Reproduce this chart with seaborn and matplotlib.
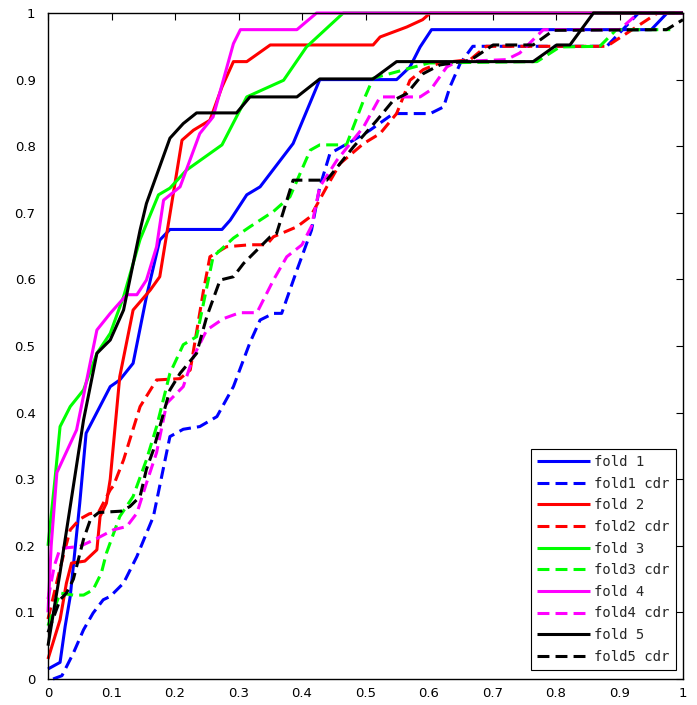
import matplotlib
matplotlib.use("Agg")
import matplotlib.pyplot as plt
import seaborn as sns
import numpy as np

# ---------------- data ----------------
fold1_x = [0, 0.019, 0.027, 0.035, 0.05, 0.06, 0.098, 0.113, 0.134, 0.155, 0.176, 0.192, 0.274, 0.287, 0.313, 0.334, 0.386, 0.428, 0.549, 0.570, 0.586, 0.604, 0.95, 0.975, 1.0]
fold1_y = [0.015, 0.025, 0.079, 0.124, 0.264, 0.369, 0.439, 0.449, 0.474, 0.574, 0.659, 0.675, 0.675, 0.689, 0.727, 0.739, 0.804, 0.900, 0.900, 0.919, 0.949, 0.975, 0.975, 1.0, 1.0]

fold1cdr_x = [0.008, 0.022, 0.04, 0.056, 0.071, 0.087, 0.098, 0.119, 0.140, 0.166, 0.192, 0.213, 0.239, 0.266, 0.292, 0.318, 0.334, 0.355, 0.368, 0.392, 0.415, 0.428, 0.444, 0.481, 0.507, 0.544, 0.602, 0.623, 0.633, 0.649, 0.669, 0.70, 0.88, 0.93, 1.0]
fold1cdr_y = [0.0, 0.005, 0.039, 0.074, 0.099, 0.119, 0.124, 0.144, 0.184, 0.244, 0.364, 0.375, 0.379, 0.394, 0.439, 0.505, 0.539, 0.549, 0.549, 0.614, 0.674, 0.739, 0.789, 0.809, 0.824, 0.849, 0.849, 0.859, 0.889, 0.924, 0.950, 0.950, 0.950, 1.0, 1.0]

fold2_x = [0, 0.019, 0.029, 0.037, 0.058, 0.077, 0.082, 0.092, 0.098, 0.113, 0.134, 0.161, 0.176, 0.211, 0.229, 0.255, 0.274, 0.292, 0.313, 0.350, 0.512, 0.523, 0.565, 0.59, 0.602, 1.0]
fold2_y = [0.03, 0.089, 0.144, 0.174, 0.177, 0.194, 0.244, 0.264, 0.300, 0.454, 0.554, 0.584, 0.604, 0.809, 0.824, 0.839, 0.889, 0.927, 0.927, 0.952, 0.952, 0.964, 0.979, 0.99, 1.0, 1.0]

fold2cdr_x = [0, 0.02, 0.035, 0.05, 0.065, 0.08, 0.098, 0.103, 0.119, 0.145, 0.171, 0.208, 0.224, 0.245, 0.255, 0.281, 0.318, 0.344, 0.355, 0.392, 0.413, 0.439, 0.460, 0.497, 0.523, 0.549, 0.570, 0.591, 0.617, 0.665, 0.69, 0.88, 0.96, 1.0]
fold2cdr_y = [0.09, 0.17, 0.224, 0.24, 0.248, 0.251, 0.284, 0.29, 0.329, 0.409, 0.449, 0.451, 0.464, 0.584, 0.634, 0.649, 0.652, 0.652, 0.664, 0.679, 0.694, 0.739, 0.774, 0.804, 0.819, 0.849, 0.899, 0.915, 0.925, 0.93, 0.95, 0.95, 1.0, 1.0]

fold3_x = [0, 0.011, 0.019, 0.035, 0.056, 0.077, 0.098, 0.119, 0.145, 0.174, 0.192, 0.218, 0.274, 0.313, 0.371, 0.407, 0.465, 1.0]
fold3_y = [0.20, 0.30, 0.379, 0.409, 0.434, 0.489, 0.519, 0.574, 0.66, 0.727, 0.737, 0.764, 0.802, 0.874, 0.899, 0.949, 1.0, 1.0]

fold3cdr_x = [0, 0.019, 0.04, 0.056, 0.071, 0.084, 0.092, 0.113, 0.134, 0.155, 0.171, 0.192, 0.213, 0.234, 0.260, 0.292, 0.318, 0.355, 0.381, 0.413, 0.428, 0.470, 0.497, 0.512, 0.6, 0.77, 0.806, 0.869, 0.895, 0.98]
fold3cdr_y = [0.08, 0.129, 0.126, 0.126, 0.134, 0.159, 0.189, 0.244, 0.274, 0.329, 0.379, 0.459, 0.502, 0.514, 0.634, 0.662, 0.679, 0.702, 0.724, 0.794, 0.802, 0.802, 0.869, 0.902, 0.925, 0.927, 0.949, 0.95, 0.975, 0.975]

fold4_x = [0, 0.005, 0.014, 0.045, 0.077, 0.098, 0.124, 0.140, 0.155, 0.171, 0.182, 0.208, 0.239, 0.260, 0.292, 0.303, 0.392, 0.423, 1.0]
fold4_y = [0.10, 0.20, 0.31, 0.374, 0.524, 0.549, 0.577, 0.577, 0.599, 0.649, 0.719, 0.739, 0.819, 0.844, 0.954, 0.975, 0.975, 1.0, 1.0]

fold4cdr_x = [0, 0.01, 0.019, 0.05, 0.077, 0.103, 0.124, 0.140, 0.155, 0.171, 0.187, 0.213, 0.229, 0.250, 0.276, 0.302, 0.329, 0.355, 0.376, 0.400, 0.415, 0.428, 0.455, 0.497, 0.523, 0.586, 0.602, 0.628, 0.644, 0.722, 0.743, 0.78, 0.9, 0.93, 1.0]
fold4cdr_y = [0.12, 0.17, 0.196, 0.199, 0.211, 0.224, 0.229, 0.249, 0.294, 0.34, 0.414, 0.439, 0.484, 0.524, 0.541, 0.55, 0.55, 0.599, 0.634, 0.652, 0.68, 0.739, 0.779, 0.829, 0.874, 0.874, 0.884, 0.919, 0.927, 0.93, 0.94, 0.975, 0.975, 1.0, 1.0]

fold5_x = [0, 0.019, 0.056, 0.077, 0.098, 0.119, 0.145, 0.155, 0.192, 0.213, 0.234, 0.297, 0.318, 0.392, 0.428, 0.512, 0.549, 0.764, 0.801, 0.822, 0.859, 1.0]
fold5_y = [0.05, 0.16, 0.389, 0.489, 0.509, 0.554, 0.674, 0.714, 0.812, 0.834, 0.850, 0.850, 0.874, 0.874, 0.901, 0.901, 0.927, 0.927, 0.952, 0.952, 1.0, 1.0]

fold5cdr_x = [0, 0.019, 0.029, 0.04, 0.056, 0.067, 0.08, 0.115, 0.129, 0.145, 0.155, 0.166, 0.192, 0.208, 0.234, 0.250, 0.271, 0.292, 0.308, 0.350, 0.360, 0.386, 0.439, 0.481, 0.518, 0.544, 0.565, 0.591, 0.617, 0.665, 0.701, 0.764, 0.796, 0.974, 1.0]
fold5cdr_y = [0.07, 0.119, 0.129, 0.15, 0.21, 0.24, 0.25, 0.252, 0.259, 0.274, 0.315, 0.344, 0.434, 0.459, 0.489, 0.544, 0.599, 0.604, 0.624, 0.664, 0.669, 0.749, 0.749, 0.799, 0.839, 0.869, 0.879, 0.909, 0.922, 0.929, 0.952, 0.952, 0.974, 0.975, 0.99]

labels = ["fold 1", "fold1 cdr", "fold 2", "fold2 cdr", "fold 3", "fold3 cdr",
          "fold 4", "fold4 cdr", "fold 5", "fold5 cdr"]
tick_vals = [0, 0.1, 0.2, 0.3, 0.4, 0.5, 0.6, 0.7, 0.8, 0.9, 1]
tick_labels = ["0", "0.1", "0.2", "0.3", "0.4", "0.5", "0.6", "0.7", "0.8", "0.9", "1"]

series = [
    (fold1_x, fold1_y), (fold1cdr_x, fold1cdr_y),
    (fold2_x, fold2_y), (fold2cdr_x, fold2cdr_y),
    (fold3_x, fold3_y), (fold3cdr_x, fold3cdr_y),
    (fold4_x, fold4_y), (fold4cdr_x, fold4cdr_y),
    (fold5_x, fold5_y), (fold5cdr_x, fold5cdr_y),
]
colors = ["#0000ff", "#0000ff", "#ff0000", "#ff0000", "#00ff00", "#00ff00",
          "#ff00ff", "#ff00ff", "#000000", "#000000"]

# ---------------- plotting ----------------
sns.set_style("white")
plt.rcParams["font.family"] = ["DejaVu Sans"]

fig = plt.figure(figsize=(6.97, 7.05), dpi=100)
ax = fig.add_axes([48 / 697, 26 / 705, 635 / 697, 666 / 705])

for i, ((xs, ys), lab, col) in enumerate(zip(series, labels, colors)):
    dashed = (i % 2 == 1)
    sns.lineplot(x=np.array(xs), y=np.array(ys), ax=ax, sort=False, estimator=None,
                 color=col, lw=2.2, label=lab, clip_on=False)
    line = ax.lines[-1]
    if dashed:
        line.set_dashes((3.9, 2.0))
    line.set_solid_capstyle("butt")
    line.set_solid_joinstyle("round")

ax.set_xlim(0, 1)
ax.set_ylim(0, 1)
ax.set_xticks(tick_vals)
ax.set_xticklabels(tick_labels)
ax.set_yticks(tick_vals)
ax.set_yticklabels(tick_labels)
ax.tick_params(direction="in", top=True, right=True, length=5, width=0.8,
               labelsize=9.5, colors="black")
ax.tick_params(axis="x", pad=6)
ax.tick_params(axis="y", pad=9)
for sp in ax.spines.values():
    sp.set_visible(True)
    sp.set_color("black")
    sp.set_linewidth(1.0)
ax.set_xlabel("")
ax.set_ylabel("")

leg = ax.legend(loc="lower right", bbox_to_anchor=(0.989, 0.0135), borderaxespad=0,
                prop={"family": "DejaVu Sans Mono", "size": 10},
                handlelength=3.75, handletextpad=0.35, labelspacing=0.55,
                fancybox=False, framealpha=1, edgecolor="black", borderpad=0.45)
leg.get_frame().set_linewidth(0.8)

fig.savefig("out.png", dpi=100, facecolor="white")
